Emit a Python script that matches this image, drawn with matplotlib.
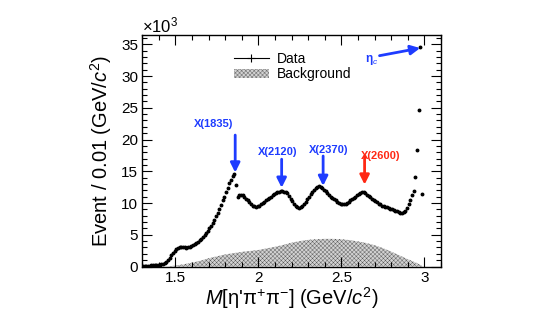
import numpy as np
import matplotlib
matplotlib.use("Agg")
import matplotlib.pyplot as plt
from matplotlib.lines import Line2D
from matplotlib.ticker import MultipleLocator

plt.rcParams['font.family'] = ['Liberation Sans', 'DejaVu Sans']
plt.rcParams['mathtext.fontset'] = 'custom'
plt.rcParams['mathtext.rm'] = 'Liberation Sans'
plt.rcParams['mathtext.it'] = 'Liberation Sans:italic'
plt.rcParams['hatch.linewidth'] = 0.3

# data: events per 0.01 GeV/c^2, in units of 10^3, bins starting at 1.30
data_start = 1.305
data_counts = [
    0.05, 0.08, 0.10, 0.12, 0.15, 0.18, 0.20, 0.22, 0.25, 0.28,   # 1.30
    0.30, 0.35, 0.40, 0.50, 0.70, 1.00, 1.40, 1.80, 2.20, 2.50,   # 1.40
    2.80, 2.95, 3.05, 3.10, 3.05, 3.00, 2.95, 3.00, 3.10, 3.20,   # 1.50
    3.35, 3.50, 3.70, 3.90, 4.10, 4.40, 4.70, 5.00, 5.30, 5.60,   # 1.60
    6.00, 6.40, 6.80, 7.30, 7.90, 8.50, 9.10, 9.70, 10.4, 11.0,   # 1.70
    11.7, 12.4, 13.1, 13.7, 14.2, 14.6, 12.9, 11.0, 11.2, 11.3,   # 1.80
    11.2, 11.0, 10.7, 10.4, 10.1, 9.80, 9.60, 9.50, 9.40, 9.50,   # 1.90
    9.60, 9.80, 10.0, 10.2, 10.4, 10.6, 10.8, 11.0, 11.2, 11.4,   # 2.00
    11.6, 11.7, 11.8, 11.9, 11.9, 11.8, 11.7, 11.5, 11.1, 10.7,   # 2.10
    10.3, 9.90, 9.50, 9.30, 9.20, 9.30, 9.50, 9.80, 10.2, 10.6,   # 2.20
    11.0, 11.4, 11.8, 12.1, 12.3, 12.5, 12.6, 12.5, 12.3, 12.1,   # 2.30
    11.9, 11.6, 11.3, 11.0, 10.8, 10.6, 10.4, 10.2, 10.0, 9.90,   # 2.40
    9.80, 9.80, 9.90, 10.0, 10.2, 10.4, 10.6, 10.8, 11.0, 11.2,   # 2.50
    11.4, 11.6, 11.7, 11.7, 11.5, 11.3, 11.1, 10.9, 10.7, 10.5,   # 2.60
    10.3, 10.1, 9.90, 9.80, 9.60, 9.50, 9.40, 9.30, 9.20, 9.10,   # 2.70
    9.00, 8.90, 8.80, 8.70, 8.60, 8.50, 8.50, 8.60, 8.80, 9.20,   # 2.80
    9.80, 10.5, 11.3, 11.9, 14.1, 18.4, 24.7, 34.6, 11.4,         # 2.90
]
data_mass = data_start + 0.01 * np.arange(len(data_counts))

bkg_mass = [1.45, 1.50, 1.55, 1.60, 1.65, 1.70, 1.75, 1.80, 1.85, 1.90,
            1.95, 2.00, 2.05, 2.10, 2.15, 2.20, 2.25, 2.30, 2.35, 2.40,
            2.45, 2.50, 2.55, 2.60, 2.65, 2.70, 2.75, 2.80, 2.85, 2.90,
            2.95, 2.98, 2.99]
bkg_counts = [0.0, 0.15, 0.35, 0.60, 0.90, 1.30, 1.60, 1.90, 2.10, 2.30,
              2.45, 2.60, 2.85, 3.10, 3.40, 3.75, 4.00, 4.20, 4.30, 4.35,
              4.35, 4.30, 4.15, 3.95, 3.70, 3.35, 2.90, 2.35, 1.75, 1.15,
              0.60, 0.20, 0.0]

# resonance markers: label, label centre, arrow x, arrow top, arrow tip, colour
res_names = ['X(1835)', 'X(2120)', 'X(2370)', 'X(2600)']
res_label_x = [1.728, 2.115, 2.424, 2.736]
res_label_y = [22.4, 18.0, 18.3, 17.4]
res_x = [1.86, 2.14, 2.39, 2.64]
res_top = [20.7, 16.9, 17.4, 17.3]
res_tip = [14.8, 12.4, 12.7, 12.9]
res_colors = ['#1e3cff', '#1e3cff', '#1e3cff', '#ff2814']

fig = plt.figure(figsize=(5.39, 3.26), dpi=100)
ax = fig.add_axes([0.264, 0.1825, 0.554, 0.709])

bkg = ax.fill_between(bkg_mass, bkg_counts, 0, facecolor='#d2d2d2', edgecolor='#555555',
                      hatch='xxxxxxxx', linewidth=0.0)
ax.errorbar(data_mass, data_counts, yerr=0.12, fmt='o', color='black',
            markersize=1.8, elinewidth=0.5, capsize=0)

for name, lx, ly, x, top, tip, c in zip(res_names, res_label_x, res_label_y,
                                         res_x, res_top, res_tip, res_colors):
    ax.annotate('', xy=(x, tip), xytext=(x, top),
                arrowprops=dict(arrowstyle='-|>', color=c, lw=2, mutation_scale=14,
                                shrinkA=0, shrinkB=0))
    ax.text(lx, ly, name, color=c, fontsize=8, fontweight='bold',
            ha='center', va='center')

ax.annotate('', xy=(2.975, 34.4), xytext=(2.73, 33.2),
            arrowprops=dict(arrowstyle='-|>', color='#1e3cff', lw=2, mutation_scale=14,
                            shrinkA=0, shrinkB=0))
ax.text(2.725, 32.6, r'η$_{c}$', color='#1e3cff', fontsize=8.5, fontweight='bold',
        ha='right', va='center')

ax.set_xlim(1.3, 3.1)
ax.set_ylim(0, 36.4)
ax.xaxis.set_major_locator(MultipleLocator(0.5))
ax.xaxis.set_minor_locator(MultipleLocator(0.1))
ax.yaxis.set_major_locator(MultipleLocator(5))
ax.yaxis.set_minor_locator(MultipleLocator(1))
ax.set_xticks([1.5, 2, 2.5, 3], ['1.5', '2', '2.5', '3'])
ax.tick_params(which='both', direction='in', top=True, right=True, labelsize=11, pad=3)
ax.tick_params(which='major', length=7, width=0.8)
ax.tick_params(which='minor', length=3.5, width=0.8)
for s in ax.spines.values():
    s.set_linewidth(1.0)

ax.text(0.0, 1.0, r'$\times$10$^{3}$', transform=ax.transAxes, fontsize=12,
        ha='left', va='bottom')

ax.set_xlabel(r"$M$[η'π$^{+}$π$^{-}$] (GeV/$c^{2}$)", fontsize=14.5, labelpad=0)
ax.set_ylabel(r'Event / 0.01 (GeV/$c^{2}$)', fontsize=14.5, labelpad=5)

data_handle = Line2D([], [], color='black', lw=0.8, marker='+', markersize=6,
                     markeredgewidth=0.8)
ax.legend(handles=[data_handle, bkg], labels=['Data', 'Background'],
          loc='upper left', bbox_to_anchor=(0.275, 0.97), frameon=False,
          fontsize=10, handlelength=2.5, handletextpad=0.6, labelspacing=0.1,
          borderpad=0.2)

fig.savefig('out.png', dpi=100)
